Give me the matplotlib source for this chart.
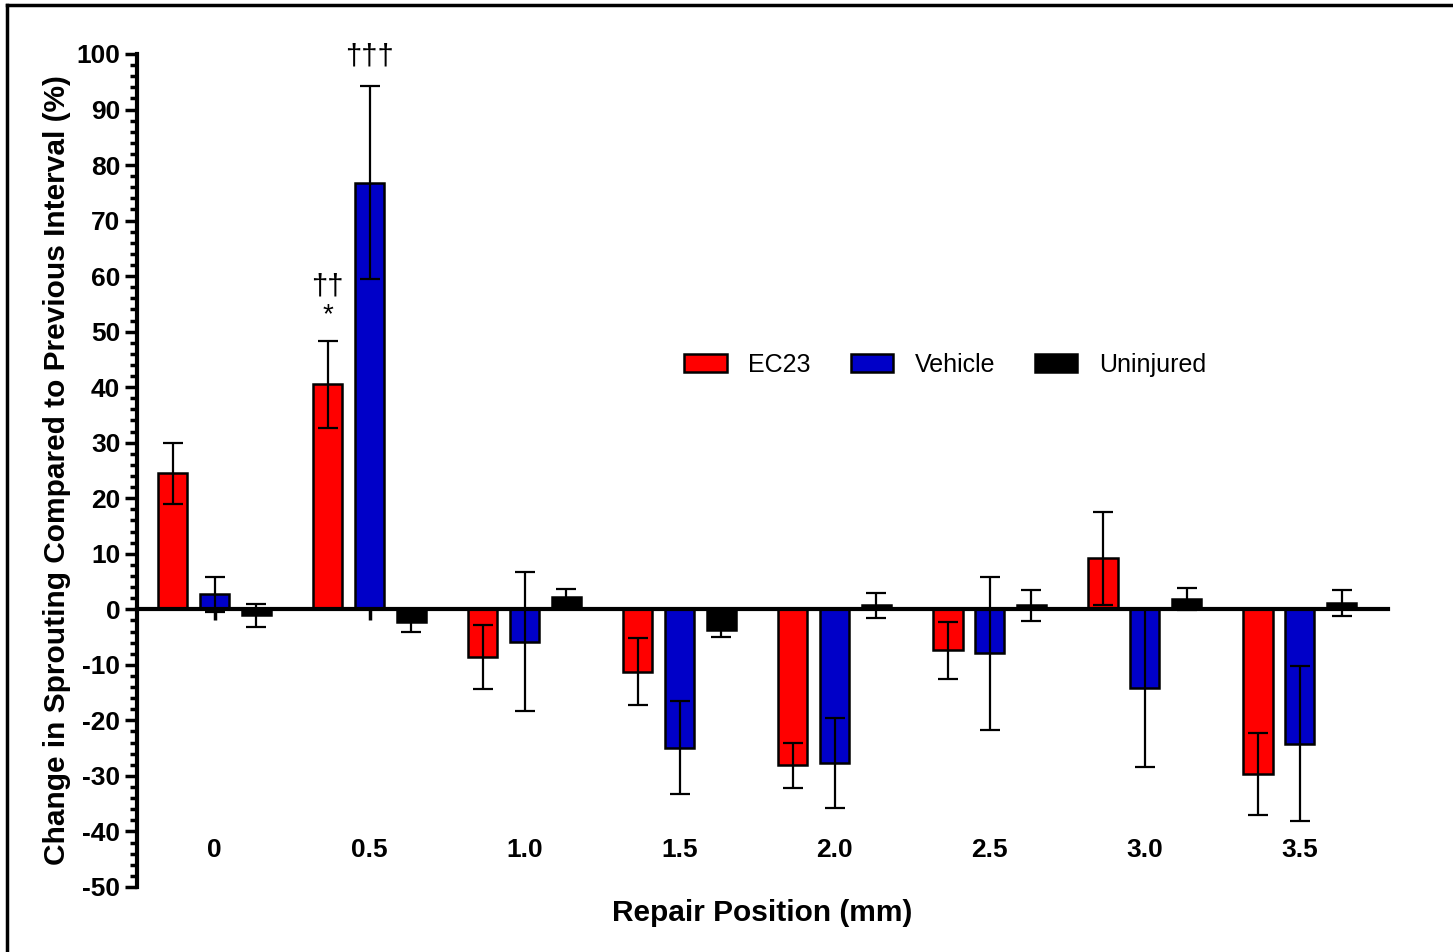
import matplotlib.pyplot as plt
import numpy as np
from matplotlib.lines import Line2D
from matplotlib.ticker import MultipleLocator

plt.rcParams['font.family'] = ['Liberation Sans', 'DejaVu Sans']
plt.rcParams['axes.unicode_minus'] = False

posiciones = ["0", "0.5", "1.0", "1.5", "2.0", "2.5", "3.0", "3.5"]
series = ["EC23", "Vehicle", "Uninjured"]
colores = ["#ff0000", "#0000c8", "#000000"]

ec23 = [24.5, 40.5, -8.6, -11.2, -28.1, -7.4, 9.2, -29.7]
ec23_err = [5.5, 7.8, 5.7, 6.0, 4.1, 5.2, 8.4, 7.4]
vehiculo = [2.7, 76.8, -5.8, -24.9, -27.7, -7.9, -14.2, -24.2]
vehiculo_err = [3.1, 17.4, 12.6, 8.3, 8.1, 13.8, 14.2, 14.0]
ileso = [-1.1, -2.2, 2.3, -3.8, 0.7, 0.7, 1.8, 1.1]
ileso_err = [2.0, 1.8, 1.4, 1.2, 2.2, 2.8, 2.0, 2.3]

valores = [ec23, vehiculo, ileso]
errores = [ec23_err, vehiculo_err, ileso_err]

fig = plt.figure(figsize=(14.53, 9.52), dpi=100)
ax = fig.add_axes([0.0943, 0.0683, 0.861, 0.875])

x = np.arange(len(posiciones))
ancho = 0.19
desp = 0.27

for i in range(3):
    xs = x + (i - 1) * desp
    ax.bar(xs, valores[i], ancho, color=colores[i], edgecolor="black",
           linewidth=1.8, label=series[i], zorder=2)
    ax.errorbar(xs, valores[i], yerr=errores[i], fmt="none", ecolor="black",
                elinewidth=1.6, capsize=7, capthick=1.6, zorder=3)

# marcas de significancia
ax.text(1 - desp, 58.2, "\u2020\u2020", ha="center", va="center", fontsize=21)
ax.text(1 - desp, 53.0, "*", ha="center", va="center", fontsize=20)
ax.text(1, 99.6, "\u2020\u2020\u2020", ha="center", va="center", fontsize=21)

ax.set_xlim(-0.5, 7.57)
ax.set_ylim(-50, 100)
ax.spines["top"].set_visible(False)
ax.spines["right"].set_visible(False)
ax.spines["bottom"].set_position(("data", 0))
ax.spines["bottom"].set_linewidth(3)
ax.spines["left"].set_linewidth(3)
ax.spines["bottom"].set_zorder(4)

ax.yaxis.set_major_locator(MultipleLocator(10))
ax.yaxis.set_minor_locator(MultipleLocator(2))
ax.tick_params(axis="y", which="major", direction="out", length=9, width=2.5,
               labelsize=19, pad=3)
ax.tick_params(axis="y", which="minor", direction="out", length=5, width=2.5)
ax.set_xticks(x)
ax.set_xticklabels(posiciones)
ax.tick_params(axis="x", direction="out", length=8, width=2.5, labelsize=19,
               pad=157)
for t in ax.get_xticklabels() + ax.get_yticklabels():
    t.set_fontweight("bold")

ax.set_xlabel("Repair Position (mm)", fontsize=21.5, fontweight="bold")
ax.xaxis.set_label_coords(0.5, -0.014)
ax.set_ylabel("Change in Sprouting Compared to Previous Interval (%)",
              fontsize=21.5, fontweight="bold")
ax.yaxis.set_label_coords(-0.053, 0.5)

ax.legend(loc="center", bbox_to_anchor=(0.646, 0.627), ncol=3, frameon=False,
          fontsize=18, handlelength=1.7, handleheight=0.68,
          handletextpad=0.85, columnspacing=1.6)

# marco recortado (solo arriba e izquierda)
fig.add_artist(Line2D([0.0048, 1.0], [0.9947, 0.9947], color="black",
                      linewidth=2.5, transform=fig.transFigure))
fig.add_artist(Line2D([0.0048, 0.0048], [0.0, 0.9947], color="black",
                      linewidth=2.5, transform=fig.transFigure))

plt.savefig("out.png", dpi=100)
